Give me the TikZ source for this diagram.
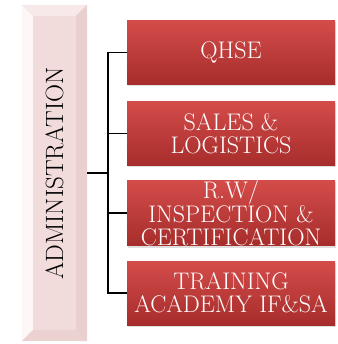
\documentclass[tikz,border=0pt]{standalone}
\usetikzlibrary{shadows,calc}
\definecolor{pinkfill}{HTML}{F2DCDB}
\definecolor{pinklight}{HTML}{FDF7F7}
\definecolor{pinktop}{HTML}{F7E9E9}
\definecolor{pinkdark}{HTML}{E9D0CF}
\definecolor{redtop}{HTML}{D34C4A}
\definecolor{redbot}{HTML}{A62D2B}
\tikzset{
  redbox/.style={rectangle, minimum width=208pt, minimum height=64pt, inner sep=0pt,
    top color=redtop, bottom color=redbot, draw=none,
    drop shadow={opacity=0.25, shadow xshift=0.5pt, shadow yshift=-2pt},
    text=white, align=center, font=\fontsize{24}{23}\selectfont},
  adminbox/.style={rectangle, minimum width=65pt, minimum height=336pt, inner sep=0pt,
    fill=pinkfill, draw=none},
  conn/.style={draw=black, line width=1.3pt}
}
\begin{document}
\begin{tikzpicture}[x=1pt,y=-1pt]
\useasboundingbox (0,0) rectangle (337,344);
% admin box with bevel
\node[adminbox] (admin) at (54.5,173) {};
\def\bv{11}
\fill[pinklight] (admin.north west) -- (admin.south west) -- ($(admin.south west)+(\bv,-\bv)$) -- ($(admin.north west)+(\bv,\bv)$) -- cycle;
\fill[pinktop] (admin.north west) -- (admin.north east) -- ($(admin.north east)+(-\bv,\bv)$) -- ($(admin.north west)+(\bv,\bv)$) -- cycle;
\fill[pinkdark] (admin.north east) -- (admin.south east) -- ($(admin.south east)+(-\bv,-\bv)$) -- ($(admin.north east)+(-\bv,\bv)$) -- cycle;
\fill[pinkdark!80!pinkfill] (admin.south west) -- (admin.south east) -- ($(admin.south east)+(-\bv,-\bv)$) -- ($(admin.south west)+(\bv,-\bv)$) -- cycle;
\fill[pinkfill] ($(admin.north west)+(\bv,\bv)$) rectangle ($(admin.south east)+(-\bv,-\bv)$);
\node[rotate=90, font=\fontsize{25}{27}\selectfont, text=black] (admintext) at (54.5,173.5) {ADMINISTRATION};
% red boxes
\node[redbox] (q) at (231,52.5) {QHSE};
\node[redbox] (s) at (231,133.5) {SALES \&\\LOGISTICS};
\node[redbox] (r) at (231,213) {R.W/\\INSPECTION \&\\CERTIFICATION};
\node[redbox] (t) at (231,293) {TRAINING\\ACADEMY IF\&SA};
% connectors
\coordinate (bus) at (108,173);
\draw[conn] (admin.east) -- (bus);
\draw[conn] (q.west) -- (q.west -| bus) -- (t.west -| bus) -- (t.west);
\draw[conn] (s.west) -- (s.west -| bus);
\draw[conn] (r.west) -- (r.west -| bus);
\end{tikzpicture}
\end{document}
